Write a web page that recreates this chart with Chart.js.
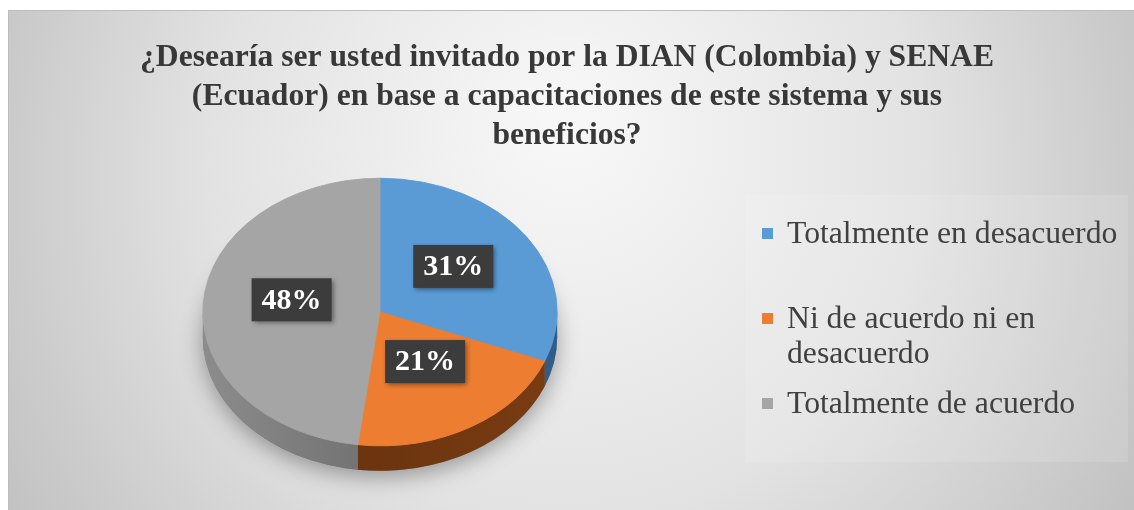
<!DOCTYPE html>
<html>
<head>
<meta charset="utf-8">
<script src="https://cdn.jsdelivr.net/npm/chart.js@4"></script>
<style>
  html, body { margin: 0; padding: 0; background: #fff; }
  #wrap { position: relative; width: 1134px; height: 510px; }
  #legend {
    position: absolute; left: 762px; top: 215px;
    font-family: "Liberation Serif", "Times New Roman", serif;
    font-size: 31.7px; line-height: 35px; color: #404040;
  }
  .item { display: flex; align-items: flex-start; }
  .box { width: 11px; height: 11px; margin: 13px 14px 0 0; flex: none; }
</style>
</head>
<body>
<div id="wrap">
  <canvas id="chart" width="1134" height="510"></canvas>
  <div id="legend"></div>
</div>
<script>
const titleLines = [
  '¿Desearía ser usted invitado por la DIAN (Colombia) y SENAE',
  '(Ecuador) en base a capacitaciones de este sistema y sus',
  'beneficios?'
];
const categories = ['Totalmente en desacuerdo', 'Ni de acuerdo ni en desacuerdo', 'Totalmente de acuerdo'];
const legendLines = [['Totalmente en desacuerdo'], ['Ni de acuerdo ni en', 'desacuerdo'], ['Totalmente de acuerdo']];
const percentages = [31, 21, 48];
const topColors = ['#5B9BD5', '#ED7D31', '#A5A5A5'];
const sideColors = [['#3a6f9f', '#2f5d88'], ['#5e2e0c', '#7a3c12'], ['#8c8c8c', '#545454']];

// tilted view of the pie, drawn at its own spot left of the legend
const tilt = 0.755;
const pieCenterX = 380;
const pieCenterY = 312;
const depth = 25;
const labelLift = 8;

const background = {
  id: 'background',
  beforeDraw(chart) {
    const ctx = chart.ctx;
    ctx.save();
    ctx.fillStyle = '#fff';
    ctx.fillRect(0, 0, chart.width, chart.height);
    const g = ctx.createRadialGradient(567, 120, 20, 567, 200, 640);
    g.addColorStop(0, '#f7f7f7');
    g.addColorStop(0.55, '#e2e2e2');
    g.addColorStop(1, '#c2c2c2');
    ctx.fillStyle = g;
    ctx.fillRect(8, 10, chart.width - 8, chart.height - 10);
    ctx.strokeStyle = '#bdbdbd';
    ctx.lineWidth = 1;
    ctx.strokeRect(8.5, 10.5, chart.width, chart.height);
    // faint panel behind the legend
    ctx.fillStyle = 'rgba(255,255,255,0.12)';
    ctx.fillRect(745, 195, 383, 267);
    ctx.restore();
  }
};

const pie3d = {
  id: 'pie3d',
  beforeDatasetsDraw(chart) {
    const ctx = chart.ctx;
    const arcs = chart.getDatasetMeta(0).data;
    const cx = arcs[0].x, cy = arcs[0].y, r = arcs[0].outerRadius;
    const d = depth / tilt;
    ctx.save();
    ctx.translate(pieCenterX, pieCenterY);
    ctx.scale(1, tilt);
    ctx.translate(-cx, -cy);

    // soft shadow under the disc
    ctx.save();
    ctx.shadowColor = 'rgba(0,0,0,0.35)';
    ctx.shadowBlur = 22;
    ctx.shadowOffsetY = 6;
    ctx.fillStyle = '#777';
    ctx.beginPath();
    ctx.arc(cx, cy + d, r, 0, Math.PI * 2);
    ctx.fill();
    ctx.restore();

    // side walls, only the front half shows
    arcs.forEach((arc, i) => {
      const a0 = Math.max(arc.startAngle, 0);
      const a1 = Math.min(arc.endAngle, Math.PI);
      if (a1 <= a0) return;
      const g = ctx.createLinearGradient(cx - r, 0, cx + r, 0);
      g.addColorStop(0, sideColors[i][0]);
      g.addColorStop(1, sideColors[i][1]);
      ctx.fillStyle = g;
      ctx.beginPath();
      ctx.arc(cx, cy + d, r, a0, a1);
      ctx.arc(cx, cy, r, a1, a0, true);
      ctx.closePath();
      ctx.fill();
    });
  },
  afterDatasetsDraw(chart) {
    const ctx = chart.ctx;
    ctx.restore();
    const arcs = chart.getDatasetMeta(0).data;
    const cx = arcs[0].x, cy = arcs[0].y;
    ctx.save();
    ctx.font = 'bold 30px "Liberation Serif", "Times New Roman", serif';
    ctx.textAlign = 'center';
    ctx.textBaseline = 'middle';
    arcs.forEach((arc, i) => {
      const p = arc.tooltipPosition();
      const x = pieCenterX + (p.x - cx);
      const y = pieCenterY + (p.y - cy) * tilt - labelLift;
      ctx.save();
      ctx.shadowColor = 'rgba(0,0,0,0.45)';
      ctx.shadowBlur = 5;
      ctx.shadowOffsetX = 2;
      ctx.shadowOffsetY = 2;
      ctx.fillStyle = '#3c3c3c';
      ctx.fillRect(x - 40, y - 21.5, 80, 43);
      ctx.restore();
      ctx.fillStyle = '#fff';
      ctx.fillText(percentages[i] + '%', x, y + 1);
    });
    ctx.restore();
  }
};

new Chart(document.getElementById('chart'), {
  type: 'pie',
  data: {
    labels: categories,
    datasets: [{
      data: percentages,
      backgroundColor: topColors,
      borderColor: topColors,
      borderWidth: 1
    }]
  },
  options: {
    responsive: false,
    animation: false,
    events: [],
    plugins: {
      legend: { display: false },
      tooltip: { enabled: false },
      title: {
        display: true,
        text: titleLines,
        color: '#383838',
        font: { family: '"Liberation Serif", "Times New Roman", serif', size: 31.6, weight: 'bold', lineHeight: 1.22 },
        padding: { top: 39, bottom: 0 }
      }
    }
  },
  plugins: [background, pie3d]
});

// legend with the wrapped second entry
const legend = document.getElementById('legend');
const gaps = [50, 15, 0];
legendLines.forEach((lines, i) => {
  const item = document.createElement('div');
  item.className = 'item';
  item.style.marginBottom = gaps[i] + 'px';
  const sq = document.createElement('span');
  sq.className = 'box';
  sq.style.background = topColors[i];
  const txt = document.createElement('span');
  txt.innerHTML = lines.join('<br>');
  item.appendChild(sq);
  item.appendChild(txt);
  legend.appendChild(item);
});
</script>
</body>
</html>
